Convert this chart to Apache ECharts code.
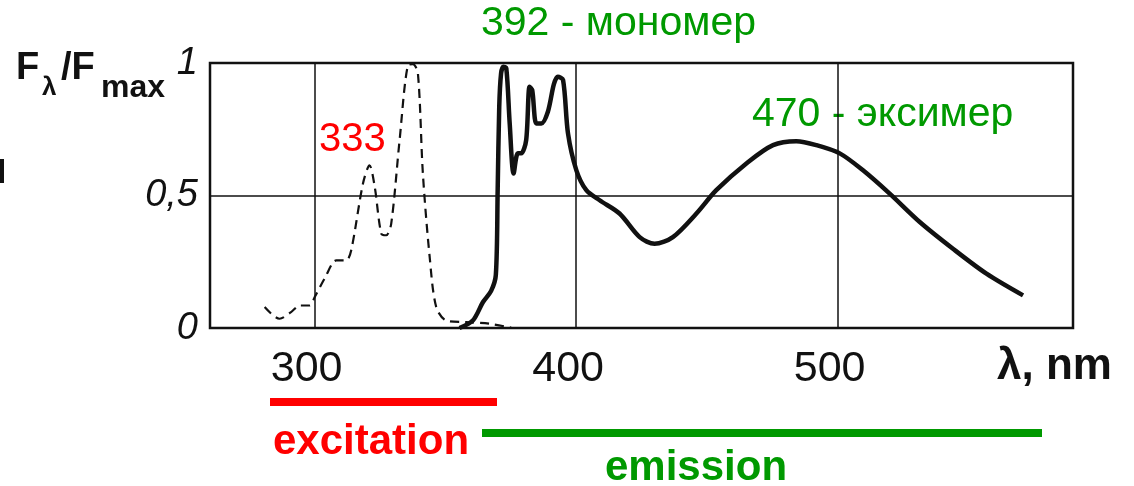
<!DOCTYPE html>
<html>
<head>
<meta charset="utf-8">
<script src="https://cdn.jsdelivr.net/npm/echarts@6/dist/echarts.min.js"></script>
<style>
  html, body { margin: 0; padding: 0; background: #fff; }
  #chart { width: 1134px; height: 486px; }
</style>
</head>
<body>
<div id="chart"></div>
<script>
// excitation spectrum (dashed), wavelength nm / relative intensity
var exWl  = [280.9, 286.6, 291.0, 294.3, 298.1, 300.0, 304.0, 308.3, 312.1, 314.0, 318.5, 321.0, 323.0, 325.5, 327.4, 329.3, 332.5, 335.7, 337.6, 339.5, 341.4, 344.0, 346.5, 350.4, 358.0, 366.9, 375.2];
var exVal = [0.079, 0.035, 0.060, 0.085, 0.085, 0.116, 0.190, 0.255, 0.255, 0.293, 0.545, 0.614, 0.532, 0.356, 0.350, 0.394, 0.709, 0.992, 0.996, 0.961, 0.583, 0.268, 0.079, 0.028, 0.022, 0.016, 0.001];

// emission spectrum (solid)
var emWl  = [355.4, 360.5, 364.4, 367.5, 369.3, 370.0, 370.6, 371.3, 372.2, 373.3, 374.6, 376.1, 377.7, 379.0, 380.9, 382.2, 383.2, 384.8, 386.7, 389.2, 391.5, 393.0, 395.0, 396.9, 400.1, 403.9, 409.0, 416.6, 424.3, 430.0, 437.0, 446.0, 453.6, 465.1, 475.3, 484.2, 491.9, 500.8, 509.7, 519.9, 531.4, 544.1, 556.9, 570.9];
var emVal = [0.000, 0.028, 0.098, 0.140, 0.200, 0.520, 0.835, 0.960, 0.986, 0.980, 0.772, 0.583, 0.659, 0.659, 0.709, 0.910, 0.898, 0.772, 0.772, 0.816, 0.920, 0.948, 0.936, 0.734, 0.595, 0.520, 0.482, 0.432, 0.343, 0.318, 0.343, 0.432, 0.520, 0.621, 0.690, 0.705, 0.690, 0.659, 0.595, 0.507, 0.400, 0.299, 0.205, 0.123];

var xTicks = [300, 400, 500];
var yTicks = [0, 0.5, 1];

var FONT = 'Liberation Sans, Arial, sans-serif';
var GREEN = '#009900';
var RED = '#ff0000';

function pairs(xs, ys) {
    var out = [];
    for (var i = 0; i < xs.length; i++) out.push([xs[i], ys[i]]);
    return out;
}

function txt(text, x, y, size, color, bold) {
    return {
        type: 'text', x: x, y: y,
        style: {
            text: text, fill: color,
            font: (bold ? 'bold ' : '') + size + 'px ' + FONT,
            textVerticalAlign: 'middle'
        }
    };
}

var gridLines = [];
xTicks.forEach(function (v) { gridLines.push({ xAxis: v }); });
gridLines.push({ yAxis: 0.5 });

var myChart = echarts.init(document.getElementById('chart'));

var option = {
    animation: false,
    grid: {
        left: 210, right: 61, top: 63, bottom: 158,
        show: true, borderColor: '#111', borderWidth: 2.5, backgroundColor: '#fff'
    },
    xAxis: {
        type: 'value', min: 260, max: 590,
        axisLine: { show: false }, axisTick: { show: false }, splitLine: { show: false },
        axisLabel: {
            customValues: xTicks, margin: 20, color: '#111',
            fontSize: 43, fontFamily: FONT, padding: [0, 16, 0, 0]
        }
    },
    yAxis: {
        type: 'value', min: 0, max: 1,
        axisLine: { show: false }, axisTick: { show: false }, splitLine: { show: false },
        axisLabel: {
            customValues: yTicks, margin: 12, color: '#111',
            fontSize: 38, fontStyle: 'italic', fontFamily: 'Liberation Sans Narrow, ' + FONT,
            padding: [8, 0, 0, 0],
            formatter: function (v) { return String(v).replace('.', ','); }
        }
    },
    series: [
        {
            name: 'excitation', type: 'line', data: pairs(exWl, exVal),
            smooth: 0.3, symbol: 'none',
            lineStyle: { color: '#111', width: 2.2, type: [9, 6] },
            markLine: {
                silent: true, symbol: 'none', label: { show: false },
                lineStyle: { color: '#111', width: 1.5, type: 'solid' },
                data: gridLines
            }
        },
        {
            name: 'emission', type: 'line', data: pairs(emWl, emVal),
            smooth: 0.3, symbol: 'none',
            lineStyle: { color: '#111', width: 4.5 }
        }
    ],
    graphic: [
        txt('F', 16, 69, 38, '#111', true),
        txt('λ', 42, 88, 26, '#111', true),
        txt('/F', 61, 69, 38, '#111', true),
        txt('max', 101, 88, 32, '#111', true),
        { type: 'rect', shape: { x: 0, y: 159, width: 4, height: 24 }, style: { fill: '#111' } },
        txt('392 - мономер', 481, 24, 41, GREEN, false),
        txt('470 - эксимер', 752, 115, 41, GREEN, false),
        txt('333', 319, 140, 40, RED, false),
        txt('λ, nm', 997, 367, 44, '#111', true),
        { type: 'rect', shape: { x: 270, y: 398, width: 227, height: 8 }, style: { fill: RED } },
        { type: 'rect', shape: { x: 482, y: 429, width: 560, height: 8 }, style: { fill: GREEN } },
        txt('excitation', 273, 442, 42, RED, true),
        txt('emission', 605, 468, 42, GREEN, true)
    ]
};

myChart.setOption(option);
</script>
</body>
</html>
